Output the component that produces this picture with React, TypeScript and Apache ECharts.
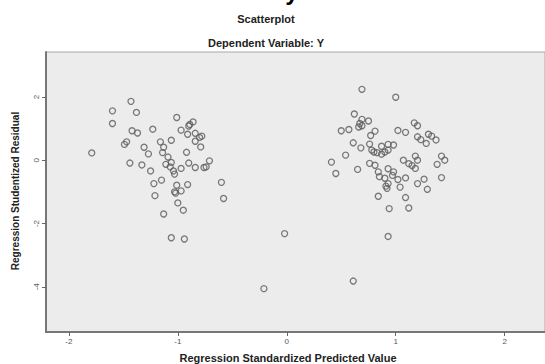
import React, { useEffect, useRef } from "react";
import * as echarts from "echarts";

const chartTitle = "Scatterplot";
const chartSubtitle = "Dependent Variable: Y";
const xAxisTitle = "Regression Standardized Predicted Value";
const yAxisTitle = "Regression Studentized Residual";

const xTicks = [-2, -1, 0, 1, 2];
const yTicks = [-4, -2, 0, 2];

const leftCluster: [number, number][] = [
  [-1.79, 0.23], [-1.6, 1.56], [-1.6, 1.16], [-1.43, 1.86], [-1.38, 1.51],
  [-1.42, 0.93], [-1.37, 0.86], [-1.49, 0.5], [-1.47, 0.58], [-1.44, -0.09],
  [-1.33, -0.15], [-1.31, 0.41], [-1.27, 0.2], [-1.25, -0.34], [-1.23, 0.98],
  [-1.22, -0.74], [-1.21, -1.12], [-1.16, 0.58], [-1.13, 0.41], [-1.14, 0.24],
  [-1.15, -0.63], [-1.13, -1.7], [-1.11, -0.13], [-1.09, 0.1], [-1.06, 0.63],
  [-1.06, -0.07], [-1.07, -0.21], [-1.04, -0.34], [-1.03, -0.44], [-1.01, 1.35],
  [-0.97, 0.95], [-0.97, -0.26], [-1.01, -0.79], [-0.97, -0.97], [-1.03, -1.0],
  [-1.02, -1.04], [-1.0, -1.35], [-0.95, -1.58], [-1.06, -2.45], [-0.94, -2.49],
  [-0.9, 1.08], [-0.89, 1.13], [-0.86, 1.21], [-0.91, 0.82], [-0.84, 0.85],
  [-0.78, 0.76], [-0.8, 0.72], [-0.84, 0.6], [-0.79, 0.42], [-0.92, 0.25],
  [-0.9, -0.09], [-0.84, -0.23], [-0.76, -0.23], [-0.74, -0.21], [-0.71, -0.02],
  [-0.91, -0.77], [-0.6, -0.7], [-0.58, -1.21],
];

const rightCluster: [number, number][] = [
  [0.41, -0.06], [0.45, -0.42], [0.5, 0.93], [0.57, 0.97], [0.54, 0.16],
  [0.62, 1.46], [0.61, 0.55], [0.65, -0.29], [0.69, 2.24], [0.69, 1.29],
  [0.67, 1.16], [0.66, 1.05], [0.69, 1.09], [0.75, 1.24], [0.68, 0.39],
  [0.76, 0.51], [0.76, -0.1], [0.77, 0.78], [0.78, 0.32], [0.8, 0.26],
  [0.81, 0.92], [0.81, -0.16], [0.83, 0.24], [0.84, -0.37], [0.85, -0.52],
  [0.84, -1.14], [0.87, 0.44], [0.87, 0.19], [0.9, 0.26], [0.93, 0.5],
  [0.93, 0.32], [0.98, 0.48], [0.93, -0.27], [0.98, -0.37], [0.97, -0.48],
  [0.9, -0.57], [0.93, -0.74], [0.92, -0.89], [0.91, -0.82], [0.94, -1.53],
  [0.93, -2.41], [1.0, 1.99], [1.02, 0.94], [1.09, 0.88], [1.02, -0.61],
  [1.09, -0.56], [1.04, -0.85], [1.07, 0.0], [1.12, -0.11], [1.15, -0.17],
  [1.18, -0.26], [1.18, 0.13], [1.2, 0.0], [1.09, -1.18], [1.12, -1.51],
  [1.17, 1.18], [1.2, 1.09], [1.2, 0.74], [1.23, 0.65], [1.28, 0.53],
  [1.3, 0.82], [1.33, 0.76], [1.37, 0.64], [1.2, -0.74], [1.26, -0.6],
  [1.29, -0.92], [1.38, -0.13], [1.42, 0.13], [1.45, 0.0], [1.42, -0.55],
];

const outliers: [number, number][] = [
  [-0.02, -2.32], [-0.21, -4.06], [0.61, -3.82],
];

export default function App() {
  const ref = useRef<HTMLDivElement>(null);
  useEffect(() => {
    if (!ref.current) return;
    const chart = echarts.init(ref.current, null, { renderer: "svg" });
    const font = "Arial, 'Liberation Sans', sans-serif";
    const markerStyle = {
      color: "rgba(0,0,0,0)",
      borderColor: "#5a5a5a",
      borderWidth: 1.3,
    };
    chart.setOption({
      animation: false,
      backgroundColor: "#ffffff",
      grid: {
        left: 46,
        right: 0,
        top: 52,
        bottom: 32,
        show: true,
        backgroundColor: "#ececec",
        borderColor: "#a8a8a8",
        borderWidth: 1,
      },
      xAxis: {
        type: "value",
        min: -2.21,
        max: 2.37,
        splitLine: { show: false },
        axisLine: { show: true, onZero: false, lineStyle: { color: "#777", width: 2 } },
        axisTick: { show: true, customValues: xTicks, length: 4, lineStyle: { color: "#666" } },
        axisLabel: {
          customValues: xTicks,
          fontSize: 8,
          color: "#555",
          fontFamily: font,
          margin: 5,
        },
      },
      yAxis: {
        type: "value",
        min: -5.43,
        max: 3.42,
        splitLine: { show: false },
        axisLine: { show: true, onZero: false, lineStyle: { color: "#777", width: 2 } },
        axisTick: { show: true, customValues: yTicks, length: 4, lineStyle: { color: "#666" } },
        axisLabel: {
          customValues: yTicks,
          fontSize: 8,
          color: "#555",
          fontFamily: font,
          rotate: 90,
          margin: 6,
        },
      },
      series: [
        { type: "scatter", data: leftCluster, symbol: "circle", symbolSize: 6, itemStyle: markerStyle },
        { type: "scatter", data: rightCluster, symbol: "circle", symbolSize: 6, itemStyle: markerStyle },
        { type: "scatter", data: outliers, symbol: "circle", symbolSize: 6, itemStyle: markerStyle },
      ],
      graphic: [
        {
          type: "text",
          x: 292,
          y: 3,
          style: {
            text: "y",
            fontSize: 24,
            fontWeight: "bold",
            fontFamily: font,
            fill: "#000",
            textAlign: "center",
            textVerticalAlign: "bottom",
          },
        },
        {
          type: "text",
          x: 266,
          y: 19,
          style: {
            text: chartTitle,
            fontSize: 11,
            fontWeight: "bold",
            fontFamily: font,
            fill: "#222",
            textAlign: "center",
            textVerticalAlign: "middle",
          },
        },
        {
          type: "text",
          x: 266,
          y: 43,
          style: {
            text: chartSubtitle,
            fontSize: 11,
            fontWeight: "bold",
            fontFamily: font,
            fill: "#222",
            textAlign: "center",
            textVerticalAlign: "middle",
          },
        },
        {
          type: "text",
          x: 288,
          y: 358,
          style: {
            text: xAxisTitle,
            fontSize: 11,
            fontWeight: "bold",
            fontFamily: font,
            fill: "#222",
            textAlign: "center",
            textVerticalAlign: "middle",
          },
        },
        {
          type: "text",
          x: 15,
          y: 191,
          rotation: Math.PI / 2,
          style: {
            text: yAxisTitle,
            fontSize: 10,
            fontWeight: "bold",
            fontFamily: font,
            fill: "#222",
            textAlign: "center",
            textVerticalAlign: "middle",
          },
        },
      ],
    });
    return () => chart.dispose();
  }, []);
  return (
    <div
      ref={ref}
      style={{ position: "fixed", left: 0, top: 0, width: 545, height: 364 }}
    />
  );
}
